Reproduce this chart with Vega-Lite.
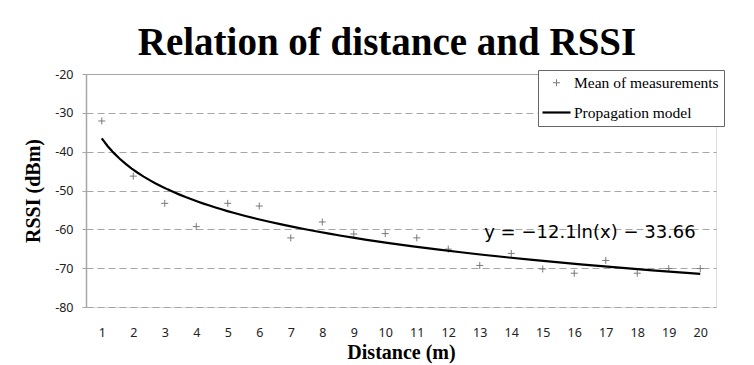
{
  "$schema": "https://vega.github.io/schema/vega-lite/v6.json",
  "width": 630,
  "height": 233,
  "autosize": {"type": "none"},
  "padding": {"left": 86, "top": 74, "right": 38, "bottom": 58},
  "background": "white",
  "title": {
    "text": "Relation of distance and RSSI",
    "font": "Liberation Serif",
    "fontSize": 39,
    "fontWeight": "bold",
    "color": "black",
    "anchor": "middle",
    "frame": "group",
    "dx": -14,
    "offset": 5
  },
  "data": {
    "values": [
      {"distance": 1, "rssi": -32.1, "series": "Mean of measurements"},
      {"distance": 2, "rssi": -46.3, "series": "Mean of measurements"},
      {"distance": 3, "rssi": -53.3, "series": "Mean of measurements"},
      {"distance": 4, "rssi": -59.3, "series": "Mean of measurements"},
      {"distance": 5, "rssi": -53.3, "series": "Mean of measurements"},
      {"distance": 6, "rssi": -54.0, "series": "Mean of measurements"},
      {"distance": 7, "rssi": -62.2, "series": "Mean of measurements"},
      {"distance": 8, "rssi": -58.1, "series": "Mean of measurements"},
      {"distance": 9, "rssi": -61.2, "series": "Mean of measurements"},
      {"distance": 10, "rssi": -61.1, "series": "Mean of measurements"},
      {"distance": 11, "rssi": -62.2, "series": "Mean of measurements"},
      {"distance": 12, "rssi": -65.1, "series": "Mean of measurements"},
      {"distance": 13, "rssi": -69.3, "series": "Mean of measurements"},
      {"distance": 14, "rssi": -66.2, "series": "Mean of measurements"},
      {"distance": 15, "rssi": -70.2, "series": "Mean of measurements"},
      {"distance": 16, "rssi": -71.3, "series": "Mean of measurements"},
      {"distance": 17, "rssi": -68.0, "series": "Mean of measurements"},
      {"distance": 18, "rssi": -71.3, "series": "Mean of measurements"},
      {"distance": 19, "rssi": -70.1, "series": "Mean of measurements"},
      {"distance": 20, "rssi": -70.1, "series": "Mean of measurements"}
    ]
  },
  "encoding": {
    "x": {
      "field": "distance",
      "type": "quantitative",
      "scale": {"domain": [0.5, 20.5], "nice": false, "zero": false},
      "axis": {
        "values": [1,2,3,4,5,6,7,8,9,10,11,12,13,14,15,16,17,18,19,20],
        "labelExpr": "'' + datum.value",
        "labelOverlap": false,
        "title": "Distance (m)",
        "titleFont": "Liberation Serif",
        "titleFontSize": 20,
        "titleFontWeight": "bold",
        "titleColor": "black",
        "titlePadding": 4,
        "domain": false,
        "ticks": false,
        "tickSize": 0,
        "grid": false,
        "labelFont": "Noto Sans",
        "labelFontSize": 12.5,
        "labelColor": "#222",
        "labelPadding": 19,
        "labelFlush": false
      }
    },
    "y": {
      "field": "rssi",
      "type": "quantitative",
      "scale": {"domain": [-80, -20], "nice": false, "zero": false},
      "axis": {
        "values": [-80, -70, -60, -50, -40, -30, -20],
        "labelExpr": "'' + datum.value",
        "labelOverlap": false,
        "title": "RSSI (dBm)",
        "titleFont": "Liberation Serif",
        "titleFontSize": 20,
        "titleFontWeight": "bold",
        "titleColor": "black",
        "titlePadding": 11,
        "grid": true,
        "gridColor": "#a6a6a6",
        "gridWidth": 1.2,
        "gridDash": {"condition": {"test": "datum.value === -20", "value": []}, "value": [7, 4]},
        "domainColor": "#a6a6a6",
        "domainWidth": 1.5,
        "tickColor": "#a6a6a6",
        "tickSize": 4,
        "labelFont": "Noto Sans",
        "labelFontSize": 12.5,
        "labelColor": "#222",
        "labelPadding": 9,
        "labelFlush": false
      }
    }
  },
  "layer": [
    {
      "mark": {"type": "point", "filled": false, "size": 196, "opacity": 1},
      "encoding": {
        "shape": {
          "field": "series",
          "type": "nominal",
          "scale": {
            "domain": ["Mean of measurements", "Propagation model"],
            "range": ["M-0.5,0H0.5M0,-0.5V0.5", "M-2,0H2"]
          },
          "legend": {
            "title": null,
            "orient": "none",
            "legendX": 452,
            "legendY": -4,
            "fillColor": "white",
            "strokeColor": "#666666",
            "padding": 5,
            "rowPadding": 12,
            "symbolSize": 196,
            "symbolOffset": 5,
            "labelOffset": 9,
            "labelFont": "Liberation Serif",
            "labelFontSize": 15.5,
            "labelColor": "black",
            "labelLimit": 300
          }
        },
        "color": {
          "field": "series",
          "type": "nominal",
          "scale": {
            "domain": ["Mean of measurements", "Propagation model"],
            "range": ["#7a7a7a", "#000000"]
          }
        },
        "strokeWidth": {
          "field": "series",
          "type": "nominal",
          "scale": {
            "domain": ["Mean of measurements", "Propagation model"],
            "range": [1, 2.2]
          }
        }
      }
    },
    {
      "transform": [
        {"regression": "rssi", "on": "distance", "method": "log", "extent": [1, 20]}
      ],
      "mark": {"type": "line", "color": "black", "strokeWidth": 2.2}
    },
    {
      "data": {"values": [{"distance": 16.5, "rssi": -60.94, "label": "y = −12.1ln(x) − 33.66"}]},
      "mark": {"type": "text", "font": "DejaVu Sans", "fontSize": 18, "color": "black", "baseline": "middle", "align": "center"},
      "encoding": {
        "text": {"field": "label"}
      }
    }
  ]
}
